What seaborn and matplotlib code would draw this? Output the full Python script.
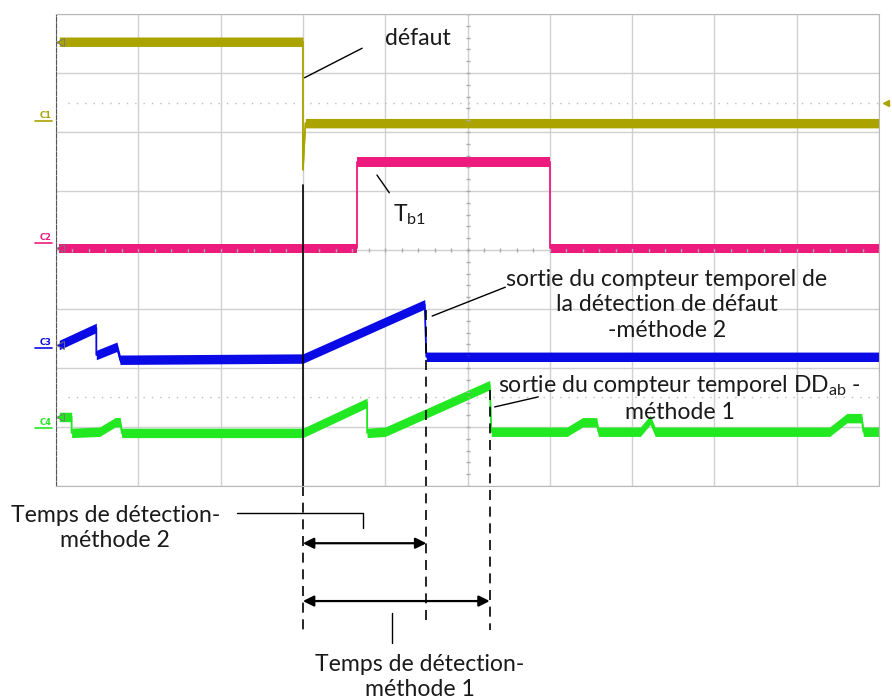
import matplotlib.pyplot as plt
import seaborn as sns

sns.set_style('white')
plt.rcParams['font.family'] = ['Lato', 'DejaVu Sans']
plt.rcParams['mathtext.default'] = 'regular'

# Traces (x in time divisions 0-10, y in vertical divisions 0-8)
c1_t = [0.04, 3.00, 3.00, 3.03, 10.0]
c1_v = [7.53, 7.53, 5.36, 6.15, 6.15]

c2_t = [0.04, 3.66, 3.66, 6.00, 6.00, 10.0]
c2_v = [4.03, 4.03, 5.49, 5.49, 4.03, 4.03]

c3_t = [0.04, 0.49, 0.49, 0.74, 0.78, 3.00, 4.48, 4.50, 10.0]
c3_v = [2.39, 2.68, 2.22, 2.36, 2.14, 2.16, 3.08, 2.19, 2.19]

c4_t = [0.04, 0.19, 0.19, 0.53, 0.72, 0.78, 0.80, 3.00, 3.78, 3.78, 4.00, 5.27, 5.29,
        6.21, 6.40, 6.57, 6.59, 7.10, 7.22, 7.28, 9.40, 9.61, 9.79, 9.81, 10.0]
c4_v = [1.17, 1.17, 0.90, 0.92, 1.08, 1.08, 0.90, 0.90, 1.41, 0.90, 0.92, 1.71, 0.92,
        0.92, 1.08, 1.08, 0.92, 0.92, 1.12, 0.92, 0.92, 1.15, 1.15, 0.92, 0.92]

# channel label levels on the left edge
label_lvl = [6.20, 4.14, 2.36, 1.00]

traces = [('C1', c1_t, c1_v, '#aaa300'),
          ('C2', c2_t, c2_v, '#ee1b7e'),
          ('C3', c3_t, c3_v, '#0a0ae6'),
          ('C4', c4_t, c4_v, '#22e822')]

# detection instants (divisions)
t_fault = 3.00
t_det2 = 4.50
t_det1 = 5.27

fig = plt.figure(figsize=(8.92, 6.99), dpi=100)
ax = fig.add_axes([56 / 892, 1 - 486 / 699, 823 / 892, 472 / 699])
ax.set_xlim(0, 10)
ax.set_ylim(0, 8)
ax.set_xticks(range(11))
ax.set_yticks(range(9))
ax.grid(True, color='#d0d0d0', lw=1)
ax.tick_params(length=0, labelbottom=False, labelleft=False)
for s in ax.spines.values():
    s.set_color('#b8b8b8')
ax.spines['left'].set_color('#555555')
ax.spines['left'].set_linestyle((0, (4, 1.5)))

# scope centre lines with small graduations
minor = [i * 0.2 for i in range(51)]
ax.plot(minor, [4] * len(minor), ls='none', marker='|', ms=3.5, color='#aaaaaa')
minor_y = [i * 0.2 for i in range(41)]
ax.plot([5] * len(minor_y), minor_y, ls='none', marker='_', ms=3.5, color='#aaaaaa')
# dotted reference levels
for lvl in (6.49, 1.51):
    ax.plot([0.15, 10], [lvl, lvl], ls=(0, (1, 5)), color='#bbbbbb', lw=1)
ax.plot([10.08], [6.49], marker='<', ms=5, color='#aaa300', clip_on=False)

for (name, t, v, col), lab in zip(traces, label_lvl):
    lo = [y - 0.08 for y in v]
    hi = [y + 0.08 for y in v]
    ax.fill_between(t, lo, hi, color=col, lw=0)
    sns.lineplot(x=t, y=v, sort=False, estimator=None, color=col, lw=1.3, ax=ax)
    ax.plot([0.05], [v[0]], marker='<', ms=6, color=col, mec='#777777', mew=0.6)
    ax.text(-0.05, lab, name, color=col, fontsize=6, ha='right', va='bottom',
            family='DejaVu Sans', weight='bold')
    ax.plot([-0.25, -0.05], [lab - 0.02, lab - 0.02], color=col, lw=1.2, clip_on=False)

# vertical markers
k = dict(color='black', lw=1.2, clip_on=False)
ax.plot([t_fault, t_fault], [5.1, 0], **k)
ax.plot([t_fault, t_fault], [0, -2.44], ls=(0, (6, 4)), **k)
ax.plot([t_det2, t_det2], [2.98, -2.27], ls=(0, (6, 4)), **k)
ax.plot([t_det1, t_det1], [1.63, -2.44], ls=(0, (6, 4)), **k)

# detection time arrows
arr = dict(arrowstyle='<|-|>', color='black', lw=1.6, mutation_scale=16,
           shrinkA=0, shrinkB=0)
ax.annotate('', xy=(t_fault, -0.97), xytext=(t_det2, -0.97), arrowprops=arr,
            annotation_clip=False)
ax.annotate('', xy=(t_fault, -1.95), xytext=(t_det1, -1.95), arrowprops=arr,
            annotation_clip=False)

# leader lines
lk = dict(color='black', lw=1, clip_on=False)
ax.plot([3.02, 3.72], [6.92, 7.42], **lk)
ax.plot([3.90, 4.05], [5.27, 4.97], **lk)
ax.plot([4.57, 5.46], [2.88, 3.37], **lk)
ax.plot([5.33, 5.86], [1.34, 1.51], **lk)
ax.plot([2.20, 3.73, 3.73], [-0.46, -0.46, -0.71], **lk)
ax.plot([4.08, 4.08], [-2.15, -2.66], **lk)

fs = 16.6
tc = '#1a1a1a'
ax.text(4.40, 7.59, 'défaut', fontsize=fs, ha='center', va='center', color=tc)
ax.text(4.30, 4.59, 'T$_{b1}$', fontsize=fs, ha='center', va='center', color=tc)
ax.text(7.42, 3.07, 'sortie du compteur temporel de\nla détection de défaut\n-méthode 2',
        fontsize=fs, ha='center', va='center', linespacing=1.25, color=tc)
ax.text(7.58, 1.49, 'sortie du compteur temporel DD$_{ab}$ -\nméthode 1',
        fontsize=fs, ha='center', va='center', linespacing=1.25, color=tc)
ax.text(0.72, -0.71, 'Temps de détection-\nméthode 2', fontsize=fs, ha='center',
        va='center', linespacing=1.25, clip_on=False, color=tc)
ax.text(4.42, -3.24, 'Temps de détection-\nméthode 1', fontsize=fs, ha='center',
        va='center', linespacing=1.25, clip_on=False, color=tc)

fig.savefig('out.png', dpi=100, facecolor='white')
